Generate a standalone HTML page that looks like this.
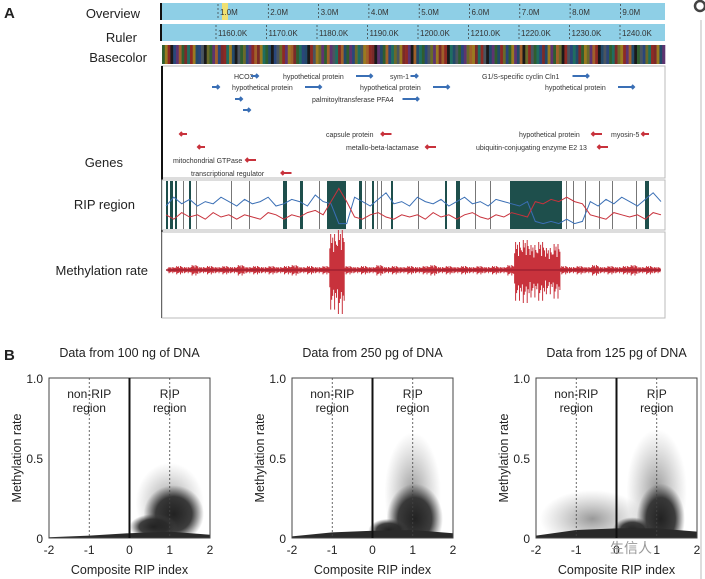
<!DOCTYPE html>
<html><head><meta charset="utf-8"><style>
body{margin:0;background:#fff;width:705px;height:579px;overflow:hidden;font-family:"Liberation Sans","Noto Sans CJK SC",sans-serif}
svg{position:absolute;left:0;top:0}
</style></head><body>
<svg id="s" width="705" height="579" xmlns="http://www.w3.org/2000/svg">
<defs>
<radialGradient id="gc"><stop offset="0" stop-color="#222" stop-opacity="1"/><stop offset="0.6" stop-color="#2a2a2a" stop-opacity="0.9"/><stop offset="1" stop-color="#444" stop-opacity="0"/></radialGradient>
<radialGradient id="gh"><stop offset="0" stop-color="#555" stop-opacity="0.6"/><stop offset="1" stop-color="#777" stop-opacity="0"/></radialGradient>
</defs>
<g font-size="13" fill="#222">
<text x="4" y="18" font-weight="bold" font-size="15">A</text>
<text x="4" y="360" font-weight="bold" font-size="15">B</text>
<text x="140" y="18" text-anchor="end">Overview</text>
<text x="137" y="42" text-anchor="end">Ruler</text>
<text x="147" y="62" text-anchor="end">Basecolor</text>
<text x="123" y="167" text-anchor="end">Genes</text>
<text x="135" y="209" text-anchor="end">RIP region</text>
<text x="148" y="275" text-anchor="end">Methylation rate</text>
</g>
<g id="top"></g>
<g id="bottom"></g>
</svg>
<script>
const NS='http://www.w3.org/2000/svg';
function mk(p,t,a,txt){const e=document.createElementNS(NS,t);for(const k in a)e.setAttribute(k,a[k]);if(txt!==undefined)e.textContent=txt;p.appendChild(e);return e;}
// ---------- data ----------
const overviewTicks=["1.0M","2.0M","3.0M","4.0M","5.0M","6.0M","7.0M","8.0M","9.0M"];
const rulerTicks=["1160.0K","1170.0K","1180.0K","1190.0K","1200.0K","1210.0K","1220.0K","1230.0K","1240.0K"];
const basePalette=["#2f5e2f","#8e2a24","#2a467a","#9a7a20","#1a1a1a","#5e3470","#1f6e60","#a0602a","#4a5560","#7a2a2a","#234a6a","#6a6a2a"];
const baseSeq=[0,3,1,4,2,5,7,0,9,6,1,3,10,2,8,4,11,0,5,7,2,9,1,6,3,10,4,8,0,11,2,5,1,7,9,3,6,0,10,4,2,8,11,1,5,3,7,9,0,6,2,10,4,1,8,3,11,5,0,7];
const genesFwd=[["HCO3",234,76],["hypothetical protein",283,76],["sym-1",390,76],["G1/S-specific cyclin Cln1",482,76],["",212,87],["hypothetical protein",232,87],["hypothetical protein",360,87],["hypothetical protein",545,87],["",235,99],["palmitoyltransferase PFA4",312,99],["",243,110]];
const genesRev=[["",180,134],["capsule protein",326,134],["hypothetical protein",519,134],["myosin-5",611,134],["",198,147],["metallo-beta-lactamase",346,147],["ubiquitin-conjugating enzyme E2 13",476,147],["mitochondrial GTPase",173,160],["transcriptional regulator",191,173]];
const ripBlocks=[[166,2],[170,3],[175,2],[183,1],[189,2],[196,1],[231,1],[249,1],[283,4],[300,3],[319,1],[327,19],[359,3],[365,1],[372,2],[377,1],[381,1],[391,2],[418,1],[445,2],[456,4],[475,1],[490,1],[510,52],[566,1],[573,1],[585,1],[599,1],[612,1],[636,1],[645,4]];
const ripBlue=[0.5,0.7,0.55,0.65,0.5,0.6,0.55,0.7,0.6,0.5,0.65,0.55,0.6,0.7,0.5,0.55,0.65,0.6,0.5,0.75,0.6,0.55,0.1,0.1,0.7,0.6,0.5,0.65,0.8,0.55,0.6,0.5,0.7,0.6,0.55,0.65,0.5,0.6,0.7,0.55,0.6,0.5,0.65,0.6,0.55,0.5,0.6,0.15,0.1,0.15,0.1,0.2,0.1,0.15,0.6,0.5,0.65,0.55,0.7,0.6,0.5,0.65,0.8,0.6];
const ripRed=[0.3,0.2,0.35,0.25,0.3,0.2,0.35,0.25,0.3,0.2,0.3,0.25,0.2,0.35,0.3,0.2,0.3,0.25,0.35,0.4,0.3,0.6,0.9,0.6,0.25,0.2,0.3,0.35,0.25,0.2,0.3,0.25,0.3,0.2,0.35,0.25,0.3,0.2,0.3,0.35,0.25,0.2,0.3,0.25,0.35,0.3,0.25,0.6,0.55,0.65,0.6,0.7,0.6,0.55,0.3,0.25,0.2,0.35,0.3,0.25,0.3,0.2,0.35,0.3];
const methAmp=[3,4,3,5,3,4,3,4,3,5,3,4,3,4,3,4,5,3,4,3,4,36,40,4,3,4,3,5,3,4,3,4,3,4,5,3,4,3,4,3,4,3,4,3,5,28,30,25,28,22,26,4,3,4,3,5,3,4,3,4,5,3,4,3];
const panelTitles=["Data from 100 ng of DNA","Data from 250 pg of DNA","Data from 125 pg of DNA"];
// clusters: [xIndex, yRate, spreadX, spreadY, kind(1=core,0=halo)]
const panelClusters=[
 [[1.0,0.22,0.85,0.25,0],[1.1,0.15,0.75,0.18,1],[0.6,0.07,0.6,0.08,1]],
 [[1.0,0.28,0.7,0.38,0],[1.05,0.12,0.7,0.22,1],[0.4,0.05,0.5,0.07,1]],
 [[1.0,0.3,0.75,0.38,0],[-0.6,0.12,1.3,0.18,0],[1.1,0.12,0.6,0.22,1],[0.4,0.05,0.5,0.08,1]]];
// floor band heights (methylation rate) at x = -2,-1,0,1,2
const floorX=[-2,-1,0,1,2];
const panelFloor=[[0.005,0.015,0.03,0.04,0.02],[0.01,0.035,0.045,0.05,0.03],[0.015,0.05,0.06,0.06,0.04]];
const xTicks=[-2,-1,0,1,2];
const yTicks=[0,0.5,1.0];
// ---------- top panel ----------
const T=document.getElementById('top');
const L=162,R=665;
let e;
e=mk(T,'rect',{x:L,y:3,width:R-L,height:17,fill:'#8ecfe6'});
mk(T,'rect',{x:222,y:3,width:6,height:17,fill:'#f0e070'});
e=mk(T,'rect',{x:L,y:24,width:R-L,height:17,fill:'#8ecfe6'});
overviewTicks.forEach((t,i)=>{const x=218+i*50.3;mk(T,'line',{x1:x,y1:4,x2:x,y2:20,stroke:'#333','stroke-dasharray':'2,2','stroke-width':0.7});
 e=mk(T,'text',{x:x+2,y:15,'font-size':8,fill:'#333'},t);});
rulerTicks.forEach((t,i)=>{const x=216+i*50.5;mk(T,'line',{x1:x,y1:25,x2:x,y2:41,stroke:'#333','stroke-dasharray':'2,2','stroke-width':0.7});
 e=mk(T,'text',{x:x+2,y:36,'font-size':8,fill:'#333'},t);});
[3,24].forEach(y=>mk(T,'rect',{x:L-2,y:y,width:2,height:17,fill:'#111'}));
const bw=(R-L)/(baseSeq.length*3);
for(let i=0;i<baseSeq.length*3;i++){const c=basePalette[(baseSeq[i%baseSeq.length]+Math.floor(i/baseSeq.length)*5)%basePalette.length];
 e=mk(T,'rect',{x:L+i*bw,y:45,width:bw+0.3,height:19,fill:c});}
mk(T,'rect',{x:L,y:66,width:R-L,height:112,fill:'none',stroke:'#bbb'});
mk(T,'line',{x1:L,y1:66,x2:L,y2:318,stroke:'#111','stroke-width':2});
genesFwd.forEach(g=>{let x=g[1];if(g[0]){e=mk(T,'text',{x:x,y:g[2]+3,'font-size':7,fill:'#333'},g[0]);x+=g[0].length*3.5+3;}
 const w=g[0].length>12?16:7;e=mk(T,'path',{d:`M${x},${g[2]}h${w}m-2,-2l2,2l-2,2`,stroke:'#3a6fb5','stroke-width':2,fill:'none'});});
genesRev.forEach(g=>{let x=g[1];if(g[0]){e=mk(T,'text',{x:x,y:g[2]+3,'font-size':7,fill:'#333'},g[0]);x+=g[0].length*3.5+3;}
 const w=g[0].length>12?10:7;e=mk(T,'path',{d:`M${x},${g[2]}h${w}M${x+2},${g[2]-2}l-2,2l2,2`,stroke:'#c8323c','stroke-width':2,fill:'none'});});
// RIP
mk(T,'rect',{x:L,y:180,width:R-L,height:50,fill:'#fff',stroke:'#bbb'});
ripBlocks.forEach(b=>{e=mk(T,'rect',{x:b[0],y:181,width:b[1],height:48,fill:b[1]>1?'#1e4f4c':'#777'});});
const rx=i=>L+4+i*(R-L-8)/(ripBlue.length-1), ry=v=>228-v*44;
[[ripBlue,'#3a6fb5','rip-blue-line'],[ripRed,'#c8323c','rip-red-line']].forEach(([arr,c,n])=>{e=mk(T,'polyline',{points:arr.map((v,i)=>rx(i)+','+ry(v)).join(' '),fill:'none',stroke:c,'stroke-width':1});});
// methylation
mk(T,'rect',{x:L,y:232,width:R-L,height:86,fill:'#fff',stroke:'#bbb'});
const mw=(R-L-10)/methAmp.length, mx=i=>L+6+i*mw;
let d='';methAmp.forEach((a,i)=>{for(let k=0;k<8;k++){const x=mx(i)+k*mw/8;const s=[0.6,1,0.75,0.9,0.5,1,0.8,0.7][k];d+=`M${x.toFixed(1)},${270-a*s}V${270+a*s*(k%3?1.1:0.8)}`;}});
e=mk(T,'path',{d:d,stroke:'#c8323c','stroke-width':1,fill:'none'});
mk(T,'line',{x1:L+4,y1:270,x2:R-4,y2:270,stroke:'#a02030','stroke-width':1.5});
// ---------- bottom scatter ----------
const B=document.getElementById('bottom');
const panelsX=[49,292,536],PW=161,PT=378,PB=538;
panelTitles.forEach((title,p)=>{
 const x0=panelsX[p];const sx=v=>x0+(v+2)/4*PW, sy=v=>PB-v*(PB-PT);
 const g=mk(B,'g',{});
 e=mk(g,'text',{x:x0+PW/2,y:357,'text-anchor':'middle','font-size':12.5,fill:'#222'},title);
 const cp='cp'+p;const c=mk(g,'clipPath',{id:cp});mk(c,'rect',{x:x0,y:PT,width:PW,height:PB-PT});
 const cg=mk(g,'g',{'clip-path':`url(#${cp})`});
 panelClusters[p].forEach(cl=>{e=mk(cg,'ellipse',{cx:sx(cl[0]),cy:sy(cl[1]),rx:cl[2]/4*PW,ry:cl[3]*(PB-PT),fill:cl[4]?'url(#gc)':'url(#gh)'});});
 const pts=floorX.map((v,i)=>sx(v)+','+sy(panelFloor[p][i])).join(' ')+` ${sx(2)},${PB} ${sx(-2)},${PB}`;
 e=mk(cg,'polygon',{points:pts,fill:'#2a2a2a'});
 mk(g,'rect',{x:x0,y:PT,width:PW,height:PB-PT,fill:'none',stroke:'#444','stroke-width':1});
 [-1,1].forEach(v=>mk(g,'line',{x1:sx(v),y1:PT,x2:sx(v),y2:PB,stroke:'#444','stroke-dasharray':'2,2','stroke-width':0.8}));
 mk(g,'line',{x1:sx(0),y1:PT,x2:sx(0),y2:PB,stroke:'#111','stroke-width':2});
 e=mk(g,'text',{x:sx(-1),y:398,'text-anchor':'middle','font-size':12,fill:'#222'},'non-RIP');
 mk(g,'text',{x:sx(-1),y:412,'text-anchor':'middle','font-size':12,fill:'#222'},'region');
 e=mk(g,'text',{x:sx(1),y:398,'text-anchor':'middle','font-size':12,fill:'#222'},'RIP');
 mk(g,'text',{x:sx(1),y:412,'text-anchor':'middle','font-size':12,fill:'#222'},'region');
 xTicks.forEach(v=>{e=mk(g,'text',{x:sx(v),y:554,'text-anchor':'middle','font-size':12,fill:'#222'},String(v));});
 yTicks.forEach(v=>{e=mk(g,'text',{x:x0-6,y:sy(v)+5,'text-anchor':'end','font-size':12,fill:'#222'},v===0?'0':v.toFixed(1));});
 e=mk(g,'text',{x:x0+PW/2,y:574,'text-anchor':'middle','font-size':12.5,fill:'#222'},'Composite RIP index');
 e=mk(g,'text',{x:0,y:0,'text-anchor':'middle','font-size':12.5,fill:'#222',transform:`translate(${x0-28},${(PT+PB)/2}) rotate(-90)`},'Methylation rate');
});
mk(B,'line',{x1:701,y1:20,x2:701,y2:579,stroke:'#bbb'});
mk(B,'circle',{cx:700,cy:6,r:5,fill:'none',stroke:'#444','stroke-width':2.5});
e=mk(B,'text',{x:610,y:553,'font-size':14,fill:'#999'},'生信人');
</script>
</body></html>
